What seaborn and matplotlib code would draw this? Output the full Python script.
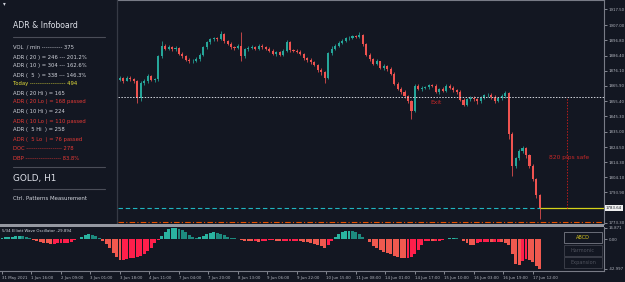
import numpy as np
import pandas as pd
import matplotlib
matplotlib.use("Agg")
import matplotlib.pyplot as plt
import seaborn as sns
from matplotlib.patches import Rectangle

# ---------------- data ----------------
# 2-hour candles starting at hourly bar index 66 (hidden part lies under the info panel)
candle_start = 66
candle_step = 2
first_open = 1871.0
closes = [1870, 1871, 1869.5, 1871.5, 1870.5, 1869, 1857.5, 1868, 1869, 1872.5,
          1870, 1870.5, 1886, 1893, 1891, 1892, 1890.5, 1891.5, 1887.5, 1886,
          1883.5, 1882.5, 1883, 1884, 1887, 1892, 1895.5, 1897.5, 1898, 1897.5,
          1901, 1896, 1894.5, 1892, 1891.5, 1892.5, 1886, 1890.5, 1891.5, 1892,
          1891, 1893, 1892, 1891, 1889.5, 1887.5, 1888.5, 1887, 1889.5, 1895.5,
          1890, 1889.5, 1889, 1887.5, 1884.5, 1883.5, 1882, 1880, 1876.5, 1875,
          1871.5, 1888, 1891, 1893, 1895, 1896.5, 1898, 1898.5, 1899.5, 1899,
          1900.5, 1894, 1887, 1884, 1881, 1882.5, 1878, 1879, 1877.5, 1874,
          1867.5, 1864, 1862, 1859, 1855.5, 1849, 1866, 1864, 1864.5, 1865,
          1866.5, 1866, 1862, 1863.5, 1862.5, 1866, 1864.5, 1863, 1862, 1856.5,
          1853, 1857, 1858, 1857, 1855.5, 1858, 1859.5, 1860, 1858.5, 1855.5,
          1857.5, 1859, 1861, 1833.5, 1812, 1817, 1822, 1824, 1819, 1812,
          1803, 1792, 1783.64]
highs = [1872, 1872.5, 1872, 1872.5, 1872.5, 1871.5, 1870, 1869, 1870.5, 1874,
         1873, 1871.5, 1887, 1896, 1894, 1893.5, 1893, 1892.5, 1892, 1888.5,
         1887, 1884.5, 1884, 1885.5, 1888, 1893, 1896.5, 1898.5, 1899, 1899,
         1903, 1901.5, 1897, 1895.5, 1893, 1894, 1902.6, 1891.5, 1892.5, 1893.5,
         1893, 1894, 1894, 1893, 1892, 1890.5, 1889.5, 1889.5, 1891, 1897,
         1896, 1891, 1890.5, 1890, 1888, 1885.5, 1884.5, 1883, 1881, 1878,
         1876, 1889, 1892.5, 1894, 1896, 1897.5, 1899, 1899.5, 1900.5, 1900.5,
         1902, 1901, 1895, 1888, 1885, 1884, 1883, 1880.5, 1880, 1878.5,
         1875, 1868.5, 1865, 1863, 1860, 1856.5, 1867.5, 1867, 1865.5, 1866,
         1867.5, 1867.5, 1867, 1864.5, 1865, 1867.5, 1867, 1865.5, 1864, 1863,
         1857.5, 1858, 1859, 1859, 1858, 1859, 1860.5, 1861, 1861, 1859.5,
         1858.5, 1860.5, 1862.5, 1862, 1835, 1818, 1823, 1825.5, 1824.5, 1820,
         1813, 1804, 1793]
lows = [1868.5, 1869, 1868, 1869, 1869.5, 1868, 1854.5, 1856, 1866.5, 1868,
        1869, 1868.5, 1869.5, 1885, 1890, 1890, 1889.5, 1889.5, 1886.5, 1885,
        1882.5, 1881.5, 1881.5, 1882, 1883, 1886, 1891, 1894.5, 1896.5, 1896.5,
        1897, 1895, 1893.5, 1891, 1890, 1890.5, 1883, 1885, 1889.5, 1890.5,
        1890, 1890, 1891, 1890, 1888.5, 1886.5, 1886, 1886, 1886, 1889,
        1889, 1888.5, 1888, 1886.5, 1883.5, 1882, 1881, 1879, 1875, 1873.5,
        1868, 1870.5, 1887, 1890, 1892, 1894, 1895.5, 1897, 1897.5, 1898,
        1898, 1893, 1886, 1883, 1880, 1880, 1877, 1876.5, 1876, 1873,
        1866.5, 1863, 1860.5, 1857.5, 1854, 1843.7, 1848, 1863, 1862.5, 1863.5,
        1864, 1865, 1861, 1860.5, 1861.5, 1862, 1863.5, 1862, 1860.5, 1855.5,
        1852, 1852, 1856, 1855.5, 1853.5, 1854.5, 1857, 1858.5, 1857, 1854,
        1855, 1856.5, 1858, 1830, 1805, 1810.5, 1816, 1820.5, 1817.5, 1810.5,
        1801.5, 1790, 1776]

# Elliott wave oscillator, one bar per 2 hours from hourly bar 0
osc_step = 2
osc_values = [2.5, 3, 3.5, 4, 4.5, 5, 4.5, 3.5, 2, -1,
              -3, -4, -5, -6, -6.5, -6.5, -6, -6, -5.5, -5,
              -3.5, -1.5, 1, 3.5, 5.5, 7, 6.5, 5, 2.5, -2,
              -7, -13, -20, -26, -30, -29.5, -28, -27, -27, -26,
              -24, -21, -17, -12, -6, -1.5, 5, 11, 14.5, 16,
              16, 15, 13, 10, 6, 3.5, 2.5, 3, 4.5, 7,
              9, 10, 9.5, 8, 6, 4, 2.5, 1.5, 1, -0.5,
              -2, -2.5, -3, -3, -3.5, -3, -2, -1.5, -1.5, -2,
              -3, -3, -2.5, -2, -2, -2, -3, -4, -4.5, -5,
              -6.5, -8, -10, -12, -8, -2, 3, 7, 10, 11.5,
              12, 11.5, 10, 7, 3, 0.5, -4, -9, -13, -16,
              -18, -20, -22, -24, -25.5, -26.5, -27, -27, -26, -22,
              -15, -8, -3, -2.5, -3, -3, -2.5, -1, 1, 2,
              2.5, 2, 1, -3, -6, -8, -8.5, -6, -4.5, -4,
              -4, -4.5, -4.5, -3.5, -4, -5.5, -8, -22, -36, -37,
              -31, -29, -30, -33, -38, -42.997]

price_ticks = [1917.50, 1907.00, 1896.80, 1886.40, 1876.10, 1865.90, 1855.40,
               1845.30, 1835.00, 1824.50, 1814.30, 1804.10, 1793.90, 1773.30]
last_price = 1783.64
exit_level = 1858.4
target_level = 1783.3
stop_level = 1773.8

time_tick_step = 17
time_labels = ["31 May 2021", "1 Jun 16:00", "2 Jun 09:00", "3 Jun 01:00",
               "3 Jun 18:00", "4 Jun 11:00", "7 Jun 04:00", "7 Jun 20:00",
               "8 Jun 13:00", "9 Jun 06:00", "9 Jun 22:00", "10 Jun 15:00",
               "11 Jun 08:00", "14 Jun 01:00", "14 Jun 17:00", "15 Jun 10:00",
               "16 Jun 03:00", "16 Jun 19:00", "17 Jun 12:00"]

info_rows = [
    ("VOL  / min ----------- 375", "w"),
    ("ADR ( 20 ) = 246 --- 201.2%", "w"),
    ("ADR ( 10 ) = 304 --- 162.6%", "w"),
    ("ADR (  5  ) = 338 --- 146.3%", "w"),
    ("Today ------------------- 494", "y"),
    ("ADR ( 20 Hi ) = 165", "w"),
    ("ADR ( 20 Lo ) = 168 passed", "r"),
    ("ADR ( 10 Hi ) = 224", "w"),
    ("ADR ( 10 Lo ) = 110 passed", "r"),
    ("ADR (  5 Hi  ) = 258", "w"),
    ("ADR (  5 Lo  ) = 76 passed", "r"),
    ("DOC ------------------- 278", "r"),
    ("DBP ------------------- 83.8%", "r"),
]

# ---------------- style ----------------
BG = "#131722"
UP = "#26a69a"
DN = "#ef5350"
TXT = "#b2b5be"
sns.set_theme(style="dark", rc={"axes.facecolor": BG, "figure.facecolor": BG,
                                "savefig.facecolor": BG})
plt.rcParams["font.family"] = ["DejaVu Sans"]

W, H = 625, 282
fig = plt.figure(figsize=(W / 100, H / 100), dpi=100)


def add_ax(x0, y0, x1, y1):
    return fig.add_axes([x0 / W, 1 - y1 / H, (x1 - x0) / W, (y1 - y0) / H])


X_MIN, X_MAX = -1.153, 346.96

# ---------------- price panel ----------------
ax = add_ax(0, 0, 604, 224)
ax.set_facecolor(BG)
n = len(closes)
xs = np.array([candle_start + candle_step * k for k in range(n)], dtype=float)
c = np.array(closes, dtype=float)
o = np.array([first_open] + closes[:-1], dtype=float)
hi = np.array(highs, dtype=float)
lo = np.array(lows, dtype=float)
cols = [UP if cc >= oo else DN for oo, cc in zip(o, c)]
ax.vlines(xs, lo, hi, colors=cols, lw=0.55)
body_h = np.maximum(np.abs(c - o), 0.35)
ax.bar(xs, body_h, bottom=np.minimum(o, c), width=1.2, color=cols, linewidth=0)

ax.hlines(exit_level, 67, X_MAX, colors="#d1d4dc", linestyles=(0, (1.5, 1.5)), lw=0.7)
ax.hlines(target_level, 67, xs[-1], colors="#1fb5c0", linestyles=(0, (4, 2.5)), lw=0.8)
ax.hlines(stop_level, 67, X_MAX, colors="#e65100", linestyles=(0, (5, 2, 1, 2)), lw=0.8)
ax.hlines(last_price, xs[-1], X_MAX, colors="#d4d21a", lw=0.9)
ax.vlines(325.6, last_price, exit_level, colors="#b71c1c", linestyles=(0, (1.5, 1.5)), lw=0.7)
ax.text(327, 1817.2, "820 pips safe", color="#c62828", fontsize=4.3, ha="center", va="center")
ax.text(246.7, 1854.8, "Exit", color="#c62828", fontsize=4.3, ha="left", va="center")

ax.set_xlim(X_MIN, X_MAX)
ax.set_ylim(1772.6, 1923.9)
ax.set_xticks([])
ax.yaxis.tick_right()
ax.set_yticks(price_ticks)
ax.set_yticklabels([f"{v:.2f}" for v in price_ticks])
ax.tick_params(axis="y", right=True, length=2, width=0.5, color=TXT,
               labelsize=2.8, labelcolor=TXT, pad=1.2)
for s in ["left", "bottom"]:
    ax.spines[s].set_visible(False)
for s in ["right", "top"]:
    ax.spines[s].set_color("#787b86")
    ax.spines[s].set_linewidth(0.8)
ax.grid(False)

# current price tag
fig.text(605.5 / W, 1 - 208 / H, f"{last_price:.2f}", fontsize=2.8, color="#131722",
         ha="left", va="center",
         bbox=dict(boxstyle="square,pad=0.25", fc="#f0f0f0", ec="#f0f0f0", lw=0))

# ---------------- separator ----------------
fig.patches.append(Rectangle((0, 1 - 227 / H), 604 / W, 3 / H, transform=fig.transFigure,
                             facecolor="#9598a1", edgecolor="none"))

# ---------------- oscillator ----------------
ax2 = add_ax(0, 227, 604, 271)
ax2.set_facecolor(BG)
v = np.array(osc_values)
d = np.diff(np.concatenate([[v[0]], v]))
cat = [("pos" if vv >= 0 else "neg") + ("up" if dd >= 0 else "dn") for vv, dd in zip(v, d)]
osc_df = pd.DataFrame({"i": [osc_step * m for m in range(len(v))], "v": v, "cat": cat})
pal = {"posup": "#2ab3a0", "posdn": "#1d8a7e", "negdn": "#f0594f", "negup": "#ff1f4b"}
sns.barplot(data=osc_df, x="i", y="v", hue="cat", palette=pal, native_scale=True,
            dodge=False, legend=False, errorbar=None, width=0.85, linewidth=0,
            saturation=1, ax=ax2)
ax2.set_xlim(X_MIN, X_MAX)
ax2.set_ylim(-45.9, 17.8)
ax2.set_xlabel("")
ax2.set_ylabel("")
ax2.yaxis.tick_right()
ax2.set_yticks([16.871, 0, -42.997])
ax2.set_yticklabels(["16.871", "0.00", "-42.997"])
ax2.tick_params(axis="y", right=True, length=2, width=0.5, color=TXT,
                labelsize=2.8, labelcolor=TXT, pad=1.2)
tick_pos = [time_tick_step * j for j in range(len(time_labels))]
ax2.set_xticks(tick_pos)
ax2.set_xticklabels(time_labels, ha="left")
ax2.tick_params(axis="x", bottom=True, length=2, width=0.5, color=TXT,
                labelsize=2.8, labelcolor=TXT, pad=1.5)
for s in ["left", "top"]:
    ax2.spines[s].set_visible(False)
for s in ["right", "bottom"]:
    ax2.spines[s].set_color("#787b86")
    ax2.spines[s].set_linewidth(0.8)
ax2.grid(False)
ax2.text(0.004, 0.9, "5/34 Elliott Wave Oscillator -29.894", transform=ax2.transAxes,
         fontsize=2.8, color="#d1d4dc", ha="left", va="center")

# buttons
btns = [("ABCD", 232, 243, "#d9c71f", "#6a6d78"),
        ("Harmonic", 245, 256, "#4f525d", "#3a3d48"),
        ("Expansion", 257, 268, "#4f525d", "#3a3d48")]
for label, y0, y1, tc, ec in btns:
    fig.patches.append(Rectangle((564 / W, 1 - y1 / H), 38 / W, (y1 - y0) / H,
                                 transform=fig.transFigure, facecolor=BG,
                                 edgecolor=ec, lw=0.7))
    fig.text(583 / W, 1 - (y0 + y1) / 2 / H, label, fontsize=3.6, color=tc,
             ha="center", va="center")

# ---------------- info panel ----------------
axp = add_ax(0, 0, 117, 224)
axp.set_facecolor(BG)
axp.set_xlim(0, 117)
axp.set_ylim(224, 0)
axp.set_xticks([])
axp.set_yticks([])
for s in ["left", "top", "bottom"]:
    axp.spines[s].set_visible(False)
axp.spines["right"].set_color("#363a45")
axp.spines["right"].set_linewidth(0.9)
axp.text(4, 4, "\u25be", fontsize=4, color="#d1d4dc", ha="center", va="center")
axp.text(13, 25, "ADR & Infoboard", fontsize=5.6, color="#e0e3eb", ha="left", va="center")
for yy in [37, 167, 189]:
    axp.plot([13, 105], [yy, yy], color="#4a4d58", lw=0.8)
row_y = [47, 57, 66, 75, 84, 93, 102, 111, 121, 130, 139, 148, 158]
colmap = {"w": "#d1d4dc", "y": "#e6e03a", "r": "#e53935"}
for (txt, ck), yy in zip(info_rows, row_y):
    axp.text(13, yy, txt, fontsize=3.8, color=colmap[ck], ha="left", va="center")
axp.text(13, 178, "GOLD, H1", fontsize=6.4, color="#e0e3eb", ha="left", va="center")
axp.text(13, 198, "Ctrl. Patterns Measurement", fontsize=3.9, color="#d1d4dc",
         ha="left", va="center")

fig.savefig("out.png", dpi=100, facecolor=BG)
